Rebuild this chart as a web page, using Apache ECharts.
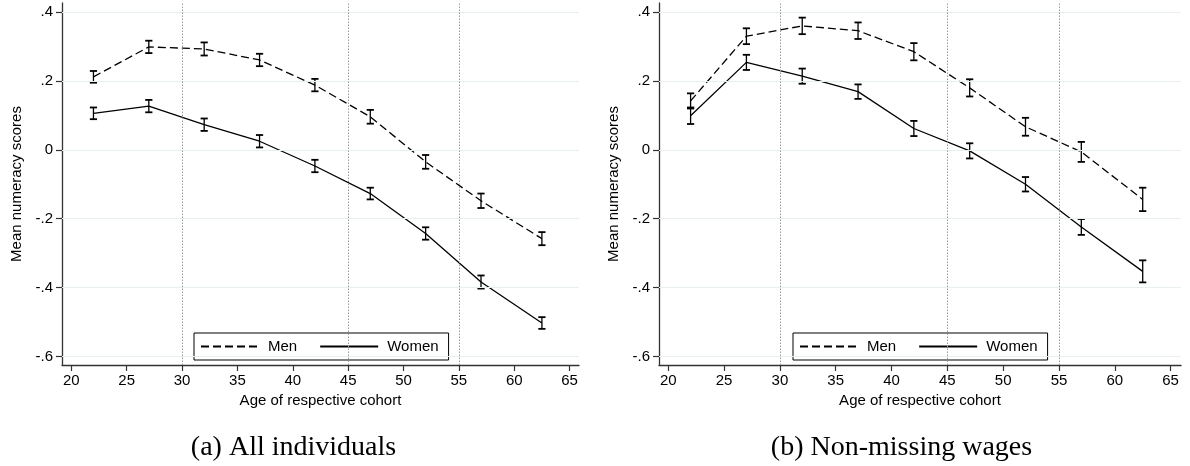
<!DOCTYPE html>
<html>
<head>
<meta charset="utf-8">
<script src="https://cdn.jsdelivr.net/npm/echarts@6/dist/echarts.min.js"></script>
<style>
  html, body { margin: 0; padding: 0; background: #fff; }
  #chart { width: 1190px; height: 466px; }
</style>
</head>
<body>
<div id="chart"></div>
<script>
// ---- data ----
const ages = [22, 27, 32, 37, 42, 47, 52, 57, 62.5];

// (a) All individuals
const menAll      = [0.212, 0.299, 0.293, 0.261, 0.188, 0.096, -0.035, -0.148, -0.258];
const menAllCI    = [0.017, 0.018, 0.019, 0.018, 0.018, 0.020, 0.020, 0.021, 0.019];
const womenAll    = [0.106, 0.127, 0.073, 0.025, -0.047, -0.127, -0.243, -0.384, -0.503];
const womenAllCI  = [0.017, 0.018, 0.018, 0.018, 0.018, 0.017, 0.018, 0.019, 0.017];

// (b) Non-missing wages
const menWage     = [0.142, 0.330, 0.360, 0.346, 0.285, 0.180, 0.067, -0.006, -0.144];
const menWageCI   = [0.022, 0.023, 0.024, 0.024, 0.025, 0.025, 0.026, 0.029, 0.034];
const womenWage   = [0.099, 0.254, 0.214, 0.169, 0.062, -0.003, -0.100, -0.224, -0.353];
const womenWageCI = [0.024, 0.022, 0.022, 0.021, 0.022, 0.022, 0.021, 0.023, 0.032];

const xTicks = [20, 25, 30, 35, 40, 45, 50, 55, 60, 65];
const yTicks = [-0.6, -0.4, -0.2, 0, 0.2, 0.4];
const refAges = [30, 45, 55];

const seriesNames = ['Men', 'Women'];
const captions = ['(a) All individuals', '(b) Non-missing wages'];
const xTitle = 'Age of respective cohort';
const yTitle = 'Mean numeracy scores';

// ---- chart ----
const SANS = '"Liberation Sans", Arial, Helvetica, sans-serif';
const chart = echarts.init(document.getElementById('chart'), null, { renderer: 'canvas' });

function fmtY(v) {
  if (Math.abs(v) < 1e-9) return '0';
  return v.toFixed(1).replace('0.', '.');
}

function xAxisFor(gi, min, max) {
  return {
    type: 'value', gridIndex: gi, min: min, max: max,
    name: xTitle, nameLocation: 'middle', nameGap: 24,
    nameTextStyle: { fontFamily: SANS, fontSize: 15, color: '#000' },
    axisLine: { show: true, onZero: false, lineStyle: { color: '#333', width: 1.3 } },
    axisTick: { show: true, length: 6, customValues: xTicks, lineStyle: { color: '#333', width: 1.2 } },
    axisLabel: { customValues: xTicks, margin: 8, fontFamily: SANS, fontSize: 15, color: '#000' },
    splitLine: { show: false }
  };
}
function yAxisFor(gi) {
  return {
    type: 'value', gridIndex: gi, min: -0.625, max: 0.4265,
    name: yTitle, nameLocation: 'middle', nameGap: 38,
    nameTextStyle: { fontFamily: SANS, fontSize: 15, color: '#000' },
    axisLine: { show: true, onZero: false, lineStyle: { color: '#333', width: 1.3 } },
    axisTick: { show: true, length: 6, customValues: yTicks, lineStyle: { color: '#333', width: 1.2 } },
    axisLabel: { customValues: yTicks, margin: 9, fontFamily: SANS, fontSize: 15, color: '#000', formatter: fmtY },
    splitLine: { show: false }
  };
}

function errSeries(gi, name, means, ci) {
  return {
    type: 'custom', name: name, xAxisIndex: gi, yAxisIndex: gi, z: 4, silent: true,
    data: ages.map((a, i) => [a, means[i] - ci[i], means[i] + ci[i]]),
    encode: { x: 0, y: [1, 2] },
    renderItem: function (params, api) {
      const x = api.value(0);
      const lo = api.coord([x, api.value(1)]);
      const hi = api.coord([x, api.value(2)]);
      const w = 3.6;
      const st = { stroke: '#000', lineWidth: 1.3 };
      const cst = { stroke: '#000', lineWidth: 1.8 };
      return {
        type: 'group',
        children: [
          { type: 'line', shape: { x1: lo[0], y1: lo[1], x2: hi[0], y2: hi[1] }, style: st },
          { type: 'line', shape: { x1: lo[0] - w, y1: lo[1], x2: lo[0] + w, y2: lo[1] }, style: cst },
          { type: 'line', shape: { x1: hi[0] - w, y1: hi[1], x2: hi[0] + w, y2: hi[1] }, style: cst }
        ]
      };
    }
  };
}

function lineSeries(gi, name, means, dashed) {
  return {
    type: 'line', name: name, xAxisIndex: gi, yAxisIndex: gi, z: 3,
    data: ages.map((a, i) => [a, means[i]]),
    symbol: 'none', showSymbol: false, silent: true, animation: false,
    lineStyle: { color: '#000', width: 1.3, type: dashed ? [8, 4] : 'solid' },
    itemStyle: { color: '#000' }
  };
}

function refSeries(gi) {
  return {
    type: 'line', name: 'ref' + gi, xAxisIndex: gi, yAxisIndex: gi, z: 1,
    data: [], silent: true, symbol: 'none',
    markLine: {
      silent: true, symbol: 'none', label: { show: false }, animation: false,
      data: yTicks.map(v => ({ yAxis: v, lineStyle: { color: '#e7eff0', width: 1.2, type: 'solid' } }))
        .concat(refAges.map(v => ({ xAxis: v, lineStyle: { color: '#9a9a9a', width: 1, type: [1.5, 1.5] } })))
    }
  };
}

function legendFor(left) {
  return {
    data: seriesNames, left: left, top: 333, orient: 'horizontal',
    borderColor: '#000', borderWidth: 1, borderRadius: 0,
    padding: [6, 10, 6, 6], itemGap: 22, itemWidth: 58, itemHeight: 14,
    selectedMode: false, backgroundColor: '#fff',
    itemStyle: { opacity: 0, color: 'transparent', borderColor: 'transparent', borderWidth: 0 },
    textStyle: { fontFamily: SANS, fontSize: 15, color: '#000', padding: [0, 0, 0, 4] }
  };
}

const option = {
  animation: false,
  backgroundColor: '#fff',
  grid: [
    { left: 62, top: 3, width: 517, height: 362 },
    { left: 659, top: 3, width: 522, height: 362 }
  ],
  xAxis: [xAxisFor(0, 19.16, 65.85), xAxisFor(1, 19.17, 65.93)],
  yAxis: [yAxisFor(0), yAxisFor(1)],
  legend: [legendFor(194), legendFor(793)],
  series: [
    refSeries(0), refSeries(1),
    lineSeries(0, seriesNames[0], menAll, true),
    lineSeries(0, seriesNames[1], womenAll, false),
    errSeries(0, 'Men CI a', menAll, menAllCI),
    errSeries(0, 'Women CI a', womenAll, womenAllCI),
    lineSeries(1, seriesNames[0], menWage, true),
    lineSeries(1, seriesNames[1], womenWage, false),
    errSeries(1, 'Men CI b', menWage, menWageCI),
    errSeries(1, 'Women CI b', womenWage, womenWageCI)
  ],
  graphic: [
    { type: 'text', x: 293.5, y: 448, style: { text: captions[0], font: '28px "Liberation Serif", "DejaVu Serif", serif', fill: '#000', textAlign: 'center', textVerticalAlign: 'middle' } },
    { type: 'text', x: 901.5, y: 448, style: { text: captions[1], font: '28px "Liberation Serif", "DejaVu Serif", serif', fill: '#000', textAlign: 'center', textVerticalAlign: 'middle' } }
  ]
};
chart.setOption(option);
</script>
</body>
</html>
